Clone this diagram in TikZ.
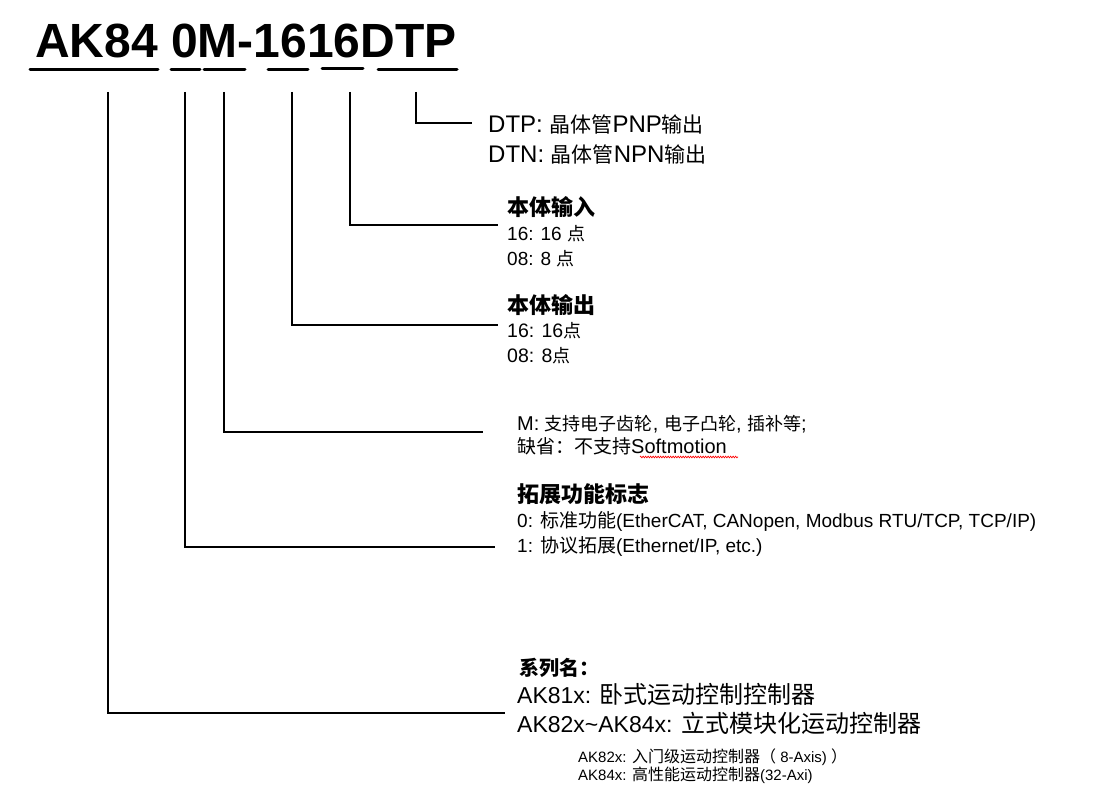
\documentclass[tikz,border=0pt]{standalone}
\usepackage{fontspec}
\setmainfont{Liberation Sans}
\newfontfamily\cjk{Noto Sans CJK SC}
\newcommand{\C}[2]{{\cjk\fontsize{#1}{#1}\selectfont #2}}
\usetikzlibrary{decorations.pathmorphing}
\begin{document}
\begin{tikzpicture}[x=1pt,y=-1pt,
  lead/.style={line width=2.6pt},
  ul/.style={line width=3pt,line cap=round},
  lbl/.style={anchor=base west,inner sep=0pt},
  hd/.style={anchor=base west,inner sep=0pt,font=\cjk\bfseries\fontsize{22}{24}\selectfont}]
\useasboundingbox (0,0) rectangle (1116,797);
\node[anchor=base west,inner sep=0pt,font=\fontsize{48}{52}\selectfont\bfseries] (title) at (35,58) {AK84 0M-1616DTP};
\draw[ul] (30,70)--(158,70);
\draw[ul] (171,70)--(200,70);
\draw[ul] (204,70)--(245,70);
\draw[ul] (268,70)--(308,70);
\draw[ul] (322,69)--(363,69);
\draw[ul] (378,70)--(457,70);
% leaders
\coordinate (s0) at (108,92); \coordinate (e0) at (505,713);
\coordinate (s1) at (185,92); \coordinate (e1) at (495,547);
\coordinate (s2) at (224,92); \coordinate (e2) at (483,432);
\coordinate (s3) at (292,92); \coordinate (e3) at (498,325);
\coordinate (s4) at (350,92); \coordinate (e4) at (498,225);
\coordinate (s5) at (416,92); \coordinate (e5) at (472,123);
\foreach \i in {0,...,5}{\draw[lead] (s\i) |- (e\i);}
% texts
\node[lbl,font=\fontsize{24}{26}\selectfont] (t5a) at (488,133) {DTP: \C{21}{晶体管}PNP\C{21}{输出}};
\node[lbl,font=\fontsize{24}{26}\selectfont] (t5b) at (488,162) {DTN: \C{21}{晶体管}NPN\C{21}{输出}};
\node[hd] (t4) at (507,215) {本体输入};
\node[lbl,font=\fontsize{19}{21}\selectfont] (t4a) at (507,240) {16: 16 \C{18}{点}};
\node[lbl,font=\fontsize{19}{21}\selectfont] (t4b) at (507,265) {08: 8 \C{18}{点}};
\node[hd] (t3) at (507,313) {本体输出};
\node[lbl,font=\fontsize{19.5}{21}\selectfont] (t3a) at (507,337) {16: 16\C{18}{点}};
\node[lbl,font=\fontsize{19.5}{21}\selectfont] (t3b) at (507,362) {08: 8\C{18}{点}};
\node[lbl,font=\fontsize{20}{22}\selectfont] (t2a) at (517,430) {M: \C{18}{支持电子齿轮}, \C{18}{电子凸轮}, \C{18}{插补等};};
\node[lbl,font=\fontsize{20}{22}\selectfont] (t2b) at (517,453) {\C{19}{缺省：不支持}Softmotion};
\draw[red,line width=0.6pt,decorate,decoration={zigzag,amplitude=0.9pt,segment length=2.5pt}] (640,457)--(738,457);
\node[hd] (t1) at (517,502) {拓展功能标志};
\node[lbl,font=\fontsize{19}{21}\selectfont] (t1a) at (517,527) {0: \C{19}{标准功能}(EtherCAT, CANopen, Modbus RTU/TCP, TCP/IP)};
\node[lbl,font=\fontsize{19}{21}\selectfont] (t1b) at (517,552) {1: \C{19}{协议拓展}(Ethernet/IP, etc.)};
\node[hd,font=\cjk\bfseries\fontsize{20}{22}\selectfont] (t0) at (519,675) {系列名：};
\node[lbl,font=\fontsize{23}{25}\selectfont] (t0a) at (517,703) {AK81x: \C{24}{卧式运动控制控制器}};
\node[lbl,font=\fontsize{23}{25}\selectfont] (t0b) at (517,732) {AK82x\textasciitilde AK84x: \C{24}{立式模块化运动控制器}};
\node[lbl,font=\fontsize{15}{17}\selectfont] (t0c) at (578,762) {AK82x: \C{16}{入门级运动控制器（} 8-Axis) \C{16}{）}};
\node[lbl,font=\fontsize{15}{17}\selectfont] (t0d) at (578,780) {AK84x: \C{16}{高性能运动控制器}(32-Axi)};
\end{tikzpicture}
\end{document}
